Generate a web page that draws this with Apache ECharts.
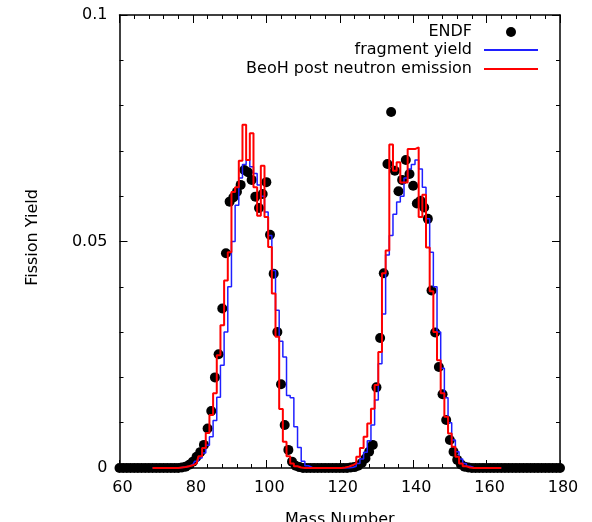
<!DOCTYPE html>
<html><head><meta charset="utf-8">
<script src="https://cdn.jsdelivr.net/npm/echarts@6/dist/echarts.min.js"></script>
<style>html,body{margin:0;padding:0;background:#fff}#c{width:592px;height:522px}</style>
</head><body><div id="c"></div>
<script>
const masses = [60,61,62,63,64,65,66,67,68,69,70,71,72,73,74,75,76,77,78,79,80,81,82,83,84,85,86,87,88,89,90,91,92,93,94,95,96,97,98,99,100,101,102,103,104,105,106,107,108,109,110,111,112,113,114,115,116,117,118,119,120,121,122,123,124,125,126,127,128,129,130,131,132,133,134,135,136,137,138,139,140,141,142,143,144,145,146,147,148,149,150,151,152,153,154,155,156,157,158,159,160,161,162,163,164,165,166,167,168,169,170,171,172,173,174,175,176,177,178,179,180];

const endfYield = [0,0,0,0,0,0,0,0,0,0,0,0,0,0,0,0,0,
  0.0001,0.0003,0.0007,0.0014,0.0025,0.0035,0.0051,0.0087,0.0126,0.0200,0.0251,0.0352,0.0474,0.0588,0.0597,0.0610,0.0625,0.0658,0.0653,0.0636,0.0599,0.0574,0.0605,0.0631,0.0515,0.0429,0.0300,0.0185,0.0095,0.0040,0.0014,0.0005,0.0002,
  0,0,0,0,0,0,0,0,0,0,0,0,0,
  0.0001,0.0002,0.0005,0.0011,0.0021,0.0036,0.0051,0.0178,0.0287,0.0430,0.0671,0.0786,0.0656,0.0611,0.0636,0.0680,0.0649,0.0623,0.0584,0.0590,0.0575,0.0550,0.0392,0.0299,0.0223,0.0163,0.0106,0.0062,0.0036,0.0018,0.0008,0.0003,0.0001,
  0,0,0,0,0,0,0,0,0,0,0,0,0,0,0,0,0,0,0,0,0,0,0,0,0];

const fragmentYield = [null,null,null,null,null,null,null,null,null,
  0,0,0,0,0,0,0,0,
  0.0001,0.0002,0.0004,0.0008,0.0015,0.0022,0.0033,0.0050,0.0069,0.0105,0.0156,0.0227,0.0300,0.0400,0.0500,0.0580,0.0640,0.0670,0.0680,0.0665,0.0650,0.0625,0.0600,0.0565,0.0513,0.0436,0.0348,0.0280,0.0245,0.0160,0.0155,0.0091,0.0045,0.0015,0.0005,0.0001,
  0,0,0,0,0,0,0,0,0,0,
  0.0001,0.0004,0.0010,0.0020,0.0035,0.0060,0.0095,0.0150,0.0230,0.0340,0.0470,0.0513,0.0560,0.0587,0.0600,0.0640,0.0660,0.0670,0.0680,0.0660,0.0620,0.0550,0.0476,0.0400,0.0300,0.0220,0.0155,0.0100,0.0062,0.0036,0.0020,0.0010,0.0004,0.0001,
  0,0,0,0,0,0,0,0,
  null,null,null,null,null,null,null,null,null,null,null,null,null,null,null,null];

const beohYield = [null,null,null,null,null,null,null,null,null,
  0,0,0,0,0,0,0,0,
  0.0001,0.0002,0.0004,0.0006,0.0010,0.0026,0.0044,0.0077,0.0117,0.0165,0.0249,0.0315,0.0414,0.0476,0.0609,0.0620,0.0678,0.0758,0.0680,0.0739,0.0620,0.0557,0.0667,0.0554,0.0488,0.0385,0.0290,0.0130,0.0058,0.0026,0.0010,0.0004,0.0001,0,0,0,
  0,0,0,0,0,0,0,0,0.0001,0.0003,
  0.0006,0.0010,0.0025,0.0044,0.0069,0.0098,0.0131,0.0183,0.0256,0.0430,0.0480,0.0714,0.0656,0.0675,0.0630,0.0630,0.0704,0.0704,0.0708,0.0554,0.0603,0.0487,0.0390,0.0300,0.0238,0.0165,0.0113,0.0076,0.0047,0.0025,0.0010,0.0004,0.0001,0,
  0,0,0,0,0,0,0,0,
  null,null,null,null,null,null,null,null,null,null,null,null,null,null,null,null];

const seriesNames = ['ENDF', 'fragment yield', 'BeoH post neutron emission'];
const xTicks = {min: 60, max: 180, interval: 20};
const yTicks = {min: 0, max: 0.1, interval: 0.05};

function pairs(vals) {
  const out = [];
  for (let i = 0; i < masses.length; i++) {
    if (vals[i] !== null) out.push([masses[i], vals[i]]);
  }
  return out;
}

const FONT = 'DejaVu Sans';
const chart = echarts.init(document.getElementById('c'), null, {renderer: 'canvas'});

function axisCommon(showLabel) {
  return {
    axisLine: {show: true, onZero: false, lineStyle: {color: '#000', width: 1.5}},
    axisTick: {show: true, inside: true, length: 8, lineStyle: {color: '#000', width: 1}},
    minorTick: {show: true, splitNumber: 5, length: 4, lineStyle: {color: '#000', width: 1}},
    splitLine: {show: false},
    minorSplitLine: {show: false},
    axisLabel: {show: showLabel, color: '#000', fontFamily: FONT, fontSize: 16, margin: 12}
  };
}

const legendBase = {
  orient: 'vertical', align: 'right', padding: 0, right: 54,
  itemWidth: 54, itemHeight: 2,
  textStyle: {fontFamily: FONT, fontSize: 16, color: '#000', padding: [0, 7, 0, 0]}
};

const xMain = axisCommon(true);
xMain.axisLabel.padding = [0, 0, 0, 6];

chart.setOption({
  animation: false,
  backgroundColor: '#fff',
  grid: {left: 119.5, right: 32, top: 15, bottom: 54, containLabel: false, outerBoundsMode: 'none'},
  legend: [
    Object.assign({}, legendBase, {top: 24, right: 76, itemHeight: 10, data: [{name: seriesNames[0], icon: 'circle'}]}),
    Object.assign({}, legendBase, {top: 42, data: [{name: seriesNames[1], icon: 'rect'}]}),
    Object.assign({}, legendBase, {top: 61, data: [{name: seriesNames[2], icon: 'rect'}]})
  ],
  xAxis: [
    Object.assign(xMain, {type: 'value', position: 'bottom', min: xTicks.min, max: xTicks.max, interval: xTicks.interval,
      name: 'Mass Number', nameLocation: 'middle', nameGap: 44,
      nameTextStyle: {fontFamily: FONT, fontSize: 16, color: '#000'}}),
    Object.assign(axisCommon(false), {type: 'value', position: 'top', min: xTicks.min, max: xTicks.max, interval: xTicks.interval})
  ],
  yAxis: [
    Object.assign(axisCommon(true), {type: 'value', position: 'left', min: yTicks.min, max: yTicks.max, interval: yTicks.interval,
      name: 'Fission Yield', nameLocation: 'middle', nameGap: 79,
      nameTextStyle: {fontFamily: FONT, fontSize: 16, color: '#000', padding: [0, 0, 0, 8]}}),
    Object.assign(axisCommon(false), {type: 'value', position: 'right', min: yTicks.min, max: yTicks.max, interval: yTicks.interval})
  ],
  series: [
    {name: seriesNames[0], type: 'scatter', data: pairs(endfYield), symbol: 'circle', symbolSize: 10,
      itemStyle: {color: '#000', opacity: 1}, clip: false, z: 2},
    {name: seriesNames[1], type: 'line', step: 'middle', data: pairs(fragmentYield), symbol: 'none', showSymbol: false,
      lineStyle: {color: '#1f1fff', width: 1.5}, itemStyle: {color: '#1f1fff'}, z: 3},
    {name: seriesNames[2], type: 'line', step: 'middle', data: pairs(beohYield), symbol: 'none', showSymbol: false,
      lineStyle: {color: '#ff0000', width: 2}, itemStyle: {color: '#ff0000'}, z: 4}
  ]
});
</script></body></html>
